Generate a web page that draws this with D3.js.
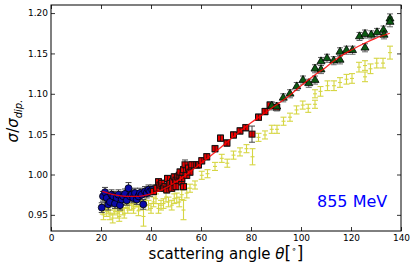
<!DOCTYPE html>
<html><head><meta charset="utf-8">
<script src="https://cdn.jsdelivr.net/npm/d3@7"></script>
<style>
html,body{margin:0;padding:0;background:#fff;}
svg{display:block;}
text{font-family:"DejaVu Sans",sans-serif;}
</style></head>
<body>
<svg id="chart" width="415" height="271"></svg>
<script>
// ---- data ----
const xTicks = [0, 20, 40, 60, 80, 100, 120, 140];
const yTicks = [0.95, 1.00, 1.05, 1.10, 1.15, 1.20];

const blueTheta = [20.3,20.8,21.6,22.3,22.9,23.6,24.2,24.9,25.6,26.3,27.0,27.6,28.3,28.9,29.6,30.3,31.0,31.6,32.3,32.9,33.6,34.3,35.0,35.6,36.3,36.9,37.6,38.3,39.0,39.6,40.5];
const blueVal   = [0.959,0.973,0.978,0.971,0.963,0.966,0.975,0.973,0.964,0.971,0.975,0.962,0.969,0.973,0.976,0.968,0.983,0.973,0.975,0.971,0.977,0.969,0.973,0.977,0.975,0.963,0.979,0.977,0.981,0.979,0.981];
const blueErr   = [0.006,0.006,0.006,0.006,0.007,0.006,0.006,0.006,0.006,0.006,0.006,0.006,0.006,0.006,0.006,0.006,0.007,0.006,0.006,0.006,0.006,0.006,0.006,0.006,0.006,0.006,0.006,0.006,0.006,0.006,0.006];

const redTheta = [41.0,42.3,43.0,43.6,44.3,45.0,45.6,46.3,46.6,47.3,47.6,48.3,48.6,49.3,50.0,50.0,50.7,51.3,51.6,52.3,52.3,53.0,53.0,53.6,54.3,55.0,55.6,56.3,58.3,59.0,60.3,62.3,65.6,67.8,70.4,73.0,75.6,77.9,80.4,83.0,85.6,87.6,90.3];
const redVal   = [0.979,0.983,0.991,0.987,0.989,0.983,0.985,0.981,0.995,0.987,0.989,0.983,0.991,0.997,0.985,0.993,0.997,0.999,1.003,0.991,0.995,0.985,1.006,1.012,0.999,1.008,1.003,1.012,1.012,1.012,1.017,1.022,1.032,1.045,1.039,1.049,1.054,1.058,1.050,1.071,1.078,1.086,1.083];
const redErr   = [0.004,0.004,0.004,0.004,0.004,0.004,0.004,0.004,0.004,0.004,0.004,0.004,0.004,0.004,0.004,0.004,0.004,0.004,0.004,0.004,0.004,0.004,0.004,0.006,0.004,0.004,0.004,0.004,0.004,0.004,0.004,0.004,0.004,0.004,0.004,0.004,0.004,0.004,0.010,0.004,0.004,0.004,0.004];

const greenTheta = [88.3,90.3,92.9,95.6,98.3,100.8,103.1,105.6,105.6,108.0,108.0,110.4,113.1,115.6,115.6,118.2,120.6,123.4,125.6,125.6,128.1,130.4,133.0,133.2,135.6,135.6];
const greenVal   = [1.085,1.084,1.095,1.100,1.109,1.117,1.113,1.117,1.131,1.130,1.140,1.144,1.141,1.142,1.152,1.154,1.154,1.171,1.174,1.157,1.173,1.176,1.179,1.173,1.193,1.189];
const greenErr   = [0.005,0.005,0.005,0.005,0.005,0.005,0.005,0.005,0.005,0.005,0.005,0.005,0.005,0.005,0.005,0.005,0.005,0.005,0.005,0.005,0.005,0.005,0.005,0.005,0.006,0.006];

const yellowTheta = [20.7,21.0,21.6,22.3,23.0,23.6,24.7,25.3,26.0,26.7,27.3,28.0,28.7,29.3,30.0,30.7,31.3,32.3,33.0,33.6,34.3,35.0,35.6,37.0,38.0,39.0,40.0,41.0,42.0,43.0,44.0,45.0,46.0,47.0,48.3,49.3,50.3,51.3,52.3,53.0,54.3,55.6,57.6,60.3,62.6,65.6,68.3,70.5,73.0,75.6,78.2,80.6,83.0,85.6,88.3,90.4,93.0,95.6,98.2,100.7,102.9,105.6,105.6,107.8,110.6,113.2,115.6,118.2,120.4,123.2,125.6,125.6,127.8,130.3,132.8,135.6];
const yellowVal   = [0.957,0.950,0.962,0.954,0.958,0.950,0.946,0.956,0.960,0.952,0.948,0.962,0.956,0.952,0.965,0.958,0.962,0.962,0.958,0.966,0.966,0.955,0.962,0.948,0.968,0.962,0.958,0.966,0.970,0.958,0.962,0.964,0.972,0.966,0.962,0.970,0.971,0.966,0.975,0.956,0.977,0.983,0.987,0.999,1.001,1.010,1.020,1.014,1.024,1.028,1.032,1.022,1.046,1.049,1.056,1.056,1.066,1.071,1.080,1.086,1.082,1.087,1.100,1.103,1.110,1.110,1.114,1.118,1.119,1.133,1.135,1.121,1.131,1.138,1.138,1.151];
const yellowErr   = [0.006,0.006,0.006,0.006,0.006,0.006,0.006,0.006,0.006,0.006,0.006,0.006,0.006,0.006,0.006,0.006,0.006,0.006,0.006,0.006,0.006,0.006,0.006,0.012,0.006,0.006,0.006,0.006,0.006,0.006,0.006,0.006,0.006,0.006,0.006,0.006,0.006,0.006,0.006,0.012,0.006,0.005,0.005,0.005,0.005,0.005,0.005,0.005,0.005,0.005,0.005,0.010,0.005,0.005,0.005,0.005,0.005,0.005,0.005,0.005,0.005,0.005,0.005,0.006,0.006,0.006,0.006,0.006,0.006,0.006,0.006,0.006,0.006,0.006,0.006,0.008];

const fitTheta = [20.5,25,30,35,40,45,50,55,60,65,70,75,80,85,90,95,100,105,110,115,120,125,130,135.5];
const fitVal   = [0.979,0.975,0.973,0.973,0.976,0.982,0.991,1.002,1.014,1.026,1.039,1.052,1.064,1.075,1.086,1.097,1.110,1.122,1.133,1.145,1.154,1.162,1.169,1.175];

const energyLabel = "855 MeV";

// ---- layout ----
const svg = d3.select("#chart");
const L = 51, R = 401, T = 5, B = 231;
const x = d3.scaleLinear().domain([0, 140]).range([L, R]);
const y = d3.scaleLinear().domain([0.93, 1.21]).range([B, T]);

const zip = (a, b, c) => a.map((v, i) => ({t: v, v: b[i], e: c ? c[i] : 0}));
const blue = zip(blueTheta, blueVal, blueErr);
const red = zip(redTheta, redVal, redErr);
const green = zip(greenTheta, greenVal, greenErr);
const yellow = zip(yellowTheta, yellowVal, yellowErr);
const fit = zip(fitTheta, fitVal);

const plot = svg.append("g");

function errorbars(data, color, cap, opacity, width) {
  const g = plot.append("g").attr("stroke", color).attr("stroke-width", width || 1)
    .attr("opacity", opacity || 1).attr("fill", "none");
  data.forEach(d => {
    const xx = x(d.t), y0 = y(d.v - d.e), y1 = y(d.v + d.e);
    g.append("line").attr("x1", xx).attr("x2", xx).attr("y1", y0).attr("y2", y1);
    g.append("line").attr("x1", xx - cap).attr("x2", xx + cap).attr("y1", y0).attr("y2", y0);
    g.append("line").attr("x1", xx - cap).attr("x2", xx + cap).attr("y1", y1).attr("y2", y1);
  });
  return g;
}

// yellow series (error bars only with a small dash marker)
const yg = errorbars(yellow, "#c9c905", 3, 0.75, 1.1);
yellow.forEach(d => {
  yg.append("line").attr("x1", x(d.t) - 2).attr("x2", x(d.t) + 2)
    .attr("y1", y(d.v)).attr("y2", y(d.v));
});

// blue circles
errorbars(blue, "#444", 3, 1, 1);
plot.append("g").selectAll("circle").data(blue).join("circle")
  .attr("cx", d => x(d.t)).attr("cy", d => y(d.v)).attr("r", 3.5)
  .attr("fill", "#0a0aa8").attr("stroke", "#000").attr("stroke-width", 0.8);

// red squares
errorbars(red, "#444", 3, 1, 1);
plot.append("g").selectAll("rect").data(red).join("rect")
  .attr("x", d => x(d.t) - 3).attr("y", d => y(d.v) - 3)
  .attr("width", 6).attr("height", 6)
  .attr("fill", "#e60000").attr("stroke", "#111").attr("stroke-width", 1);
plot.append("g").attr("stroke", "#111").attr("stroke-width", 0.7).selectAll("line").data(red).join("line")
  .attr("x1", d => x(d.t)).attr("x2", d => x(d.t))
  .attr("y1", d => y(d.v) - 3).attr("y2", d => y(d.v) + 3);

// green triangles
errorbars(green, "#666", 3, 1, 1);
const tri = d3.symbol().type(d3.symbolTriangle).size(28);
plot.append("g").selectAll("path").data(green).join("path")
  .attr("d", tri).attr("transform", d => `translate(${x(d.t)},${y(d.v)})`)
  .attr("fill", "#0b5a12").attr("stroke", "#000").attr("stroke-width", 0.8);

// fit line
plot.append("path").datum(fit)
  .attr("d", d3.line().x(d => x(d.t)).y(d => y(d.v)).curve(d3.curveMonotoneX))
  .attr("fill", "none").attr("stroke", "#ff0000").attr("stroke-width", 1.3).attr("opacity", 0.85);

// ---- axes (matplotlib classic: ticks inside on all sides) ----
const fontTick = "9px";
const ax = svg.append("g").attr("transform", `translate(0,${B})`)
  .call(d3.axisBottom(x).tickValues(xTicks).tickFormat(d3.format("d")).tickSize(-4).tickPadding(4));
const ay = svg.append("g").attr("transform", `translate(${L},0)`)
  .call(d3.axisLeft(y).tickValues(yTicks).tickFormat(d3.format(".2f")).tickSize(-4).tickPadding(3));
const axT = svg.append("g").attr("transform", `translate(0,${T})`)
  .call(d3.axisTop(x).tickValues(xTicks).tickFormat("").tickSize(-4));
const ayR = svg.append("g").attr("transform", `translate(${R},0)`)
  .call(d3.axisRight(y).tickValues(yTicks).tickFormat("").tickSize(-4));
[ax, ay, axT, ayR].forEach(g => {
  g.select(".domain").remove();
  g.selectAll(".tick line").attr("stroke", "#000").attr("stroke-width", 0.8);
  g.selectAll("text").attr("font-family", "DejaVu Sans").attr("font-size", fontTick).attr("fill", "#000");
});

svg.append("rect").attr("x", L).attr("y", T).attr("width", R - L).attr("height", B - T)
  .attr("fill", "none").attr("stroke", "#000").attr("stroke-width", 1);

// x label
const xl = svg.append("text").attr("x", (L + R) / 2).attr("y", 259)
  .attr("text-anchor", "middle").attr("font-size", "15px").attr("fill", "#000");
xl.append("tspan").text("scattering angle ");
xl.append("tspan").attr("font-style", "italic").text("θ");
xl.append("tspan").attr("font-size", "17px").text("[");
xl.append("tspan").attr("font-size", "9px").attr("dy", -7).text("∘");
xl.append("tspan").attr("font-size", "17px").attr("dy", 7).text("]");

// y label
const yl = svg.append("text").attr("transform", "translate(18,121) rotate(-90)")
  .attr("text-anchor", "middle").attr("font-size", "15px").attr("fill", "#000")
  .attr("font-style", "italic");
yl.append("tspan").text("σ");
yl.append("tspan").attr("font-style", "normal").text("/");
yl.append("tspan").text("σ");
yl.append("tspan").attr("font-size", "10px").attr("dy", 3.5).text("dip.");

// energy label
svg.append("text").attr("x", 317).attr("y", 207).attr("font-size", "16px")
  .attr("fill", "#0000ff").text(energyLabel);
</script>
</body></html>
